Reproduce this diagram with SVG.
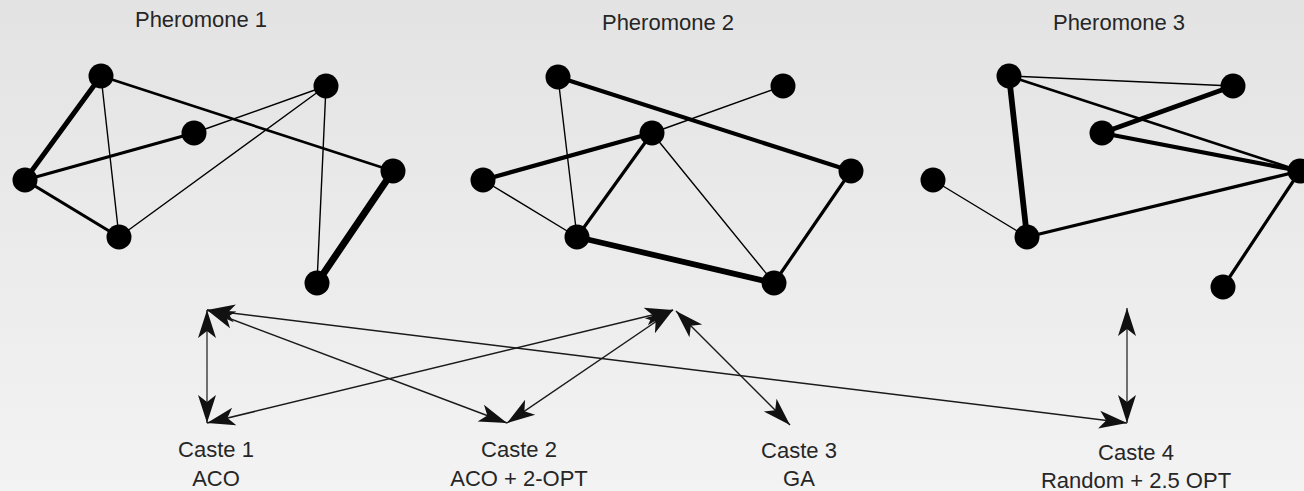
<svg xmlns="http://www.w3.org/2000/svg" width="1304" height="491" viewBox="0 0 1304 491">
<defs>
<linearGradient id="bg" x1="0" y1="0" x2="0" y2="1">
<stop offset="0" stop-color="#e3e3e3"/>
<stop offset="1" stop-color="#f3f3f3"/>
</linearGradient>
<marker id="ah" viewBox="-30 -10 32 20" refX="0" refY="0" markerWidth="32" markerHeight="20" markerUnits="userSpaceOnUse" orient="auto-start-reverse">
<path d="M0,0 L-28,-9 L-21,0 L-28,9 Z" fill="#111"/>
</marker>
<style>
.e{stroke:#000;fill:none;stroke-linecap:round}
.w1{stroke-width:1.4}.w2{stroke-width:2.6}.w3{stroke-width:3.2}.w4{stroke-width:4.2}.w5{stroke-width:5}.w6{stroke-width:5.8}.w7{stroke-width:7}
.n{fill:#000}
.t{font-family:"Liberation Sans",Arial,sans-serif;font-size:22px;fill:#262626;text-anchor:middle}
.a{stroke:#1a1a1a;stroke-width:1.5;fill:none;marker-start:url(#ah);marker-end:url(#ah)}
.v{stroke:#444}
</style>
</defs>
<rect width="1304" height="491" fill="url(#bg)"/>

<g id="pheromone1">
<text class="t" x="201" y="27">Pheromone 1</text>
<g id="p1-edges">
<line class="e w5" x1="101" y1="76" x2="25" y2="180"/>
<line class="e w2" x1="101" y1="76" x2="393" y2="171"/>
<line class="e w1" x1="101" y1="76" x2="119" y2="237"/>
<line class="e w3" x1="25" y1="180" x2="194" y2="133"/>
<line class="e w3" x1="25" y1="180" x2="119" y2="237"/>
<line class="e w1" x1="194" y1="133" x2="326" y2="86"/>
<line class="e w1" x1="119" y1="237" x2="326" y2="86"/>
<line class="e w1" x1="326" y1="86" x2="317" y2="283"/>
<line class="e w7" x1="393" y1="171" x2="317" y2="283"/>
</g>
<circle id="p1-a" class="n" cx="101" cy="76" r="12.5"/>
<circle id="p1-b" class="n" cx="326" cy="86" r="12.5"/>
<circle id="p1-c" class="n" cx="194" cy="133" r="12.5"/>
<circle id="p1-d" class="n" cx="25" cy="180" r="12.5"/>
<circle id="p1-e" class="n" cx="393" cy="171" r="12.5"/>
<circle id="p1-f" class="n" cx="119" cy="237" r="12.5"/>
<circle id="p1-g" class="n" cx="317" cy="283" r="12.5"/>
</g>

<g id="pheromone2">
<text class="t" x="668" y="30">Pheromone 2</text>
<g id="p2-edges">
<line class="e w4" x1="558" y1="77" x2="851" y2="171"/>
<line class="e w1" x1="558" y1="77" x2="577" y2="237"/>
<line class="e w1" x1="652" y1="133" x2="783" y2="86"/>
<line class="e w4" x1="483" y1="180" x2="652" y2="133"/>
<line class="e w1" x1="483" y1="180" x2="577" y2="237"/>
<line class="e w3" x1="652" y1="133" x2="577" y2="237"/>
<line class="e w1" x1="652" y1="133" x2="774" y2="283"/>
<line class="e w6" x1="577" y1="237" x2="774" y2="283"/>
<line class="e w3" x1="851" y1="171" x2="774" y2="283"/>
</g>
<circle id="p2-a" class="n" cx="558" cy="77" r="12.5"/>
<circle id="p2-b" class="n" cx="783" cy="86" r="12.5"/>
<circle id="p2-c" class="n" cx="652" cy="133" r="12.5"/>
<circle id="p2-d" class="n" cx="483" cy="180" r="12.5"/>
<circle id="p2-e" class="n" cx="851" cy="171" r="12.5"/>
<circle id="p2-f" class="n" cx="577" cy="237" r="12.5"/>
<circle id="p2-g" class="n" cx="774" cy="283" r="12.5"/>
</g>

<g id="pheromone3">
<text class="t" x="1119" y="30">Pheromone 3</text>
<g id="p3-edges">
<line class="e w1" x1="1009" y1="76" x2="1233" y2="86"/>
<line class="e w2" x1="1009" y1="76" x2="1300" y2="171"/>
<line class="e w6" x1="1009" y1="76" x2="1027" y2="237"/>
<line class="e w5" x1="1233" y1="86" x2="1102" y2="133"/>
<line class="e w4" x1="1102" y1="133" x2="1300" y2="171"/>
<line class="e w1" x1="933" y1="180" x2="1027" y2="237"/>
<line class="e w3" x1="1027" y1="237" x2="1300" y2="171"/>
<line class="e w3" x1="1300" y1="171" x2="1223" y2="287"/>
</g>
<circle id="p3-a" class="n" cx="1009" cy="76" r="12.5"/>
<circle id="p3-b" class="n" cx="1233" cy="86" r="12.5"/>
<circle id="p3-c" class="n" cx="1102" cy="133" r="12.5"/>
<circle id="p3-d" class="n" cx="933" cy="180" r="12.5"/>
<circle id="p3-e" class="n" cx="1300" cy="171" r="12.5"/>
<circle id="p3-f" class="n" cx="1027" cy="237" r="12.5"/>
<circle id="p3-g" class="n" cx="1223" cy="287" r="12.5"/>
</g>

<g id="connectors">
<line class="a v" x1="207" y1="310" x2="207" y2="423"/>
<line class="a" x1="207" y1="310" x2="1127" y2="423"/>
<line class="a" x1="207" y1="310" x2="507" y2="423"/>
<line class="a" x1="207" y1="423" x2="673" y2="310"/>
<line class="a" x1="507" y1="423" x2="673" y2="310"/>
<line class="a" x1="676" y1="311" x2="790" y2="425"/>
<line class="a v" x1="1127" y1="308" x2="1127" y2="423"/>
</g>

<g id="caste1">
<text class="t" x="216" y="457">Caste 1</text>
<text class="t" x="216" y="486">ACO</text>
</g>
<g id="caste2">
<text class="t" x="519" y="457">Caste 2</text>
<text class="t" x="519" y="486">ACO + 2-OPT</text>
</g>
<g id="caste3">
<text class="t" x="799" y="458">Caste 3</text>
<text class="t" x="799" y="486">GA</text>
</g>
<g id="caste4">
<text class="t" x="1136" y="460">Caste 4</text>
<text class="t" x="1136" y="488">Random + 2.5 OPT</text>
</g>
</svg>
